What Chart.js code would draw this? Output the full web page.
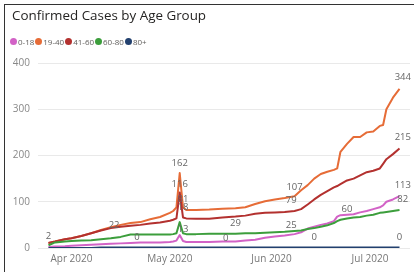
<!DOCTYPE html>
<html><head><meta charset="utf-8">
<script src="https://cdn.jsdelivr.net/npm/chart.js@4.4.1/dist/chart.umd.min.js"></script>
<style>
html,body{margin:0;padding:0;background:#fff;}
#wrap{position:relative;width:414px;height:272px;overflow:hidden;background:#fff;}
#frame{position:absolute;left:4px;top:4px;width:500px;height:400px;border-left:1px solid #333;border-top:1px solid #333;}
#title{position:absolute;left:12px;top:8px;font-size:13.4px;line-height:14px;font-family:'Open Sans';color:#252423;white-space:nowrap;}
#legend{position:absolute;left:10px;top:37px;font-size:8px;line-height:9px;font-family:'Open Sans';color:#605E5C;display:flex;align-items:center;white-space:nowrap;}
#legend .dot{width:7px;height:7px;border-radius:50%;margin-right:1px;}
#legend .txt{margin-right:1px;}
canvas{position:absolute;left:0;top:0;}
</style></head>
<body>
<div id="wrap">
<canvas id="c" width="414" height="272"></canvas>
<div id="frame"></div>
<div id="title">Confirmed Cases by Age Group</div>
<div id="legend"></div>
</div>
<script>
// ---- data ----
const dates = ["2020-03-25","2020-03-27","2020-03-30","2020-04-01","2020-04-04","2020-04-07","2020-04-10","2020-04-13","2020-04-16","2020-04-19","2020-04-22","2020-04-25","2020-04-28","2020-05-01","2020-05-02","2020-05-03","2020-05-04","2020-05-05","2020-05-06","2020-05-09","2020-05-13","2020-05-17","2020-05-21","2020-05-24","2020-05-27","2020-05-30","2020-06-02","2020-06-05","2020-06-08","2020-06-10","2020-06-12","2020-06-14","2020-06-16","2020-06-18","2020-06-20","2020-06-21","2020-06-22","2020-06-24","2020-06-26","2020-06-28","2020-06-30","2020-07-02","2020-07-04","2020-07-05","2020-07-06","2020-07-08","2020-07-10"];
const seriesNames = ["0-18","19-40","41-60","60-80","80+"];
const age0_18 = [2,3,4,5,6,7,8,9,10,11,12,12,12,13,14,16,28,15,13,13,13,14,14,16,18,22,25,27,30,34,42,46,50,53,58,68,71,72,73,77,80,84,88,92,100,105,112];
const age19_40 = [11,14,19,21,26,32,39,45,50,54,56,62,67,76,80,88,162,88,82,82,83,85,86,88,95,101,105,108,112,125,136,150,160,165,169,172,208,225,240,240,250,252,264,266,300,325,344];
const age41_60 = [11,14,19,21,26,32,38,43,46,48,50,53,55,59,61,64,120,66,64,63,63,66,68,70,74,76,77,78,80,84,94,105,115,123,131,134,138,146,150,157,164,167,172,182,192,203,215];
const age60_80 = [6,12,14,15,16,17,19,21,24,29,29,29,29,29,30,32,56,32,30,30,31,31,31,32,32,33,34,35,37,38,41,43,46,49,54,58,61,64,66,67,70,72,76,77,78,80,82];
const age80plus = [0,0,0,0,0,0,1,1,1,1,1,1,1,1,1,1,1,1,1,1,1,1,1,1,1,1,1,1,1,1,1,1,1,1,1,1,1,1,1,1,1,1,1,1,1,1,1];
const tickDates = ["2020-04-01","2020-05-01","2020-06-01","2020-07-01"];
const tickLabels = ["Apr 2020","May 2020","Jun 2020","Jul 2020"];
const yTicks = [0,100,200,300,400];
// data labels: anchor date, anchor value, text
const labelDates = ["2020-03-25","2020-04-14","2020-04-21","2020-05-04","2020-05-04","2020-05-05","2020-05-05","2020-05-05","2020-05-21","2020-05-18","2020-06-08","2020-06-07","2020-06-07","2020-06-14","2020-06-24","2020-07-11","2020-07-11","2020-07-11","2020-07-11","2020-07-10"];
const labelValues = [26,50,24,184,138,106,87,41,54,22,132,104,50,24,84,370,240,136,106,24];
const labelTexts = ["2","22","0","162","116","81","18","13","29","0","107","79","25","0","60","344","215","113","82","0"];

// ---- styles ----
const colors = ["#D262C6","#E66C37","#B3312F","#3C9E3C","#22406E"];
const drawOrder = [4,3,2,1,0];

const base = Date.UTC(2020,3,1);
function dayNum(s){const p=s.split('-').map(Number);return (Date.UTC(p[0],p[1]-1,p[2])-base)/86400000;}
const xs = dates.map(dayNum);
const seriesValues = [age0_18, age19_40, age41_60, age60_80, age80plus];

// legend
const lg = document.getElementById('legend');
seriesNames.forEach((n,i)=>{
  const d=document.createElement('span');d.className='dot';d.style.background=colors[i];lg.appendChild(d);
  const t=document.createElement('span');t.className='txt';t.textContent=n;lg.appendChild(t);
});

const dataLabelPlugin = {
  id:'dataLabels',
  afterDatasetsDraw(chart){
    const ctx=chart.ctx, sx=chart.scales.x, sy=chart.scales.y;
    ctx.save();
    ctx.font="9.5px 'Open Sans'";
    ctx.fillStyle="#666";
    ctx.textAlign='center';ctx.textBaseline='middle';
    labelTexts.forEach((t,i)=>{
      ctx.fillText(t, sx.getPixelForValue(dayNum(labelDates[i])), sy.getPixelForValue(labelValues[i]));
    });
    ctx.restore();
  }
};

new Chart(document.getElementById('c'), {
  type:'line',
  data:{
    datasets: seriesNames.map((n,i)=>({
      label:n,
      data: xs.map((x,k)=>({x:x,y:seriesValues[i][k]})),
      borderColor:colors[i],
      backgroundColor:colors[i],
      borderWidth:2,
      pointRadius:0,
      tension:0,
      order:drawOrder[i],
      borderJoinStyle:'round'
    }))
  },
  options:{
    responsive:false,
    animation:false,
    layout:{padding:{top:63,left:0,right:4,bottom:2}},
    plugins:{legend:{display:false},tooltip:{enabled:false},title:{display:false}},
    scales:{
      x:{
        type:'linear',
        min:-10.2, max:103.2,
        grid:{display:false,drawTicks:false},
        border:{display:false},
        afterBuildTicks:(s)=>{s.ticks = tickDates.map(d=>({value:dayNum(d)}));},
        ticks:{
          autoSkip:false, maxRotation:0, padding:5,
          color:'#777',
          font:{size:10,family:'Open Sans'},
          callback:(v,i)=>tickLabels[i]
        }
      },
      y:{
        min:0,max:400,
        afterBuildTicks:(s)=>{s.ticks = yTicks.map(v=>({value:v}));},
        afterFit:(s)=>{s.width=38;},
        grid:{color:'#e9e9e9',drawTicks:false,lineWidth:1},
        border:{display:false},
        ticks:{padding:8,color:'#888',font:{size:10,family:'Open Sans'}}
      }
    }
  },
  plugins:[dataLabelPlugin]
});
</script>
</body></html>
